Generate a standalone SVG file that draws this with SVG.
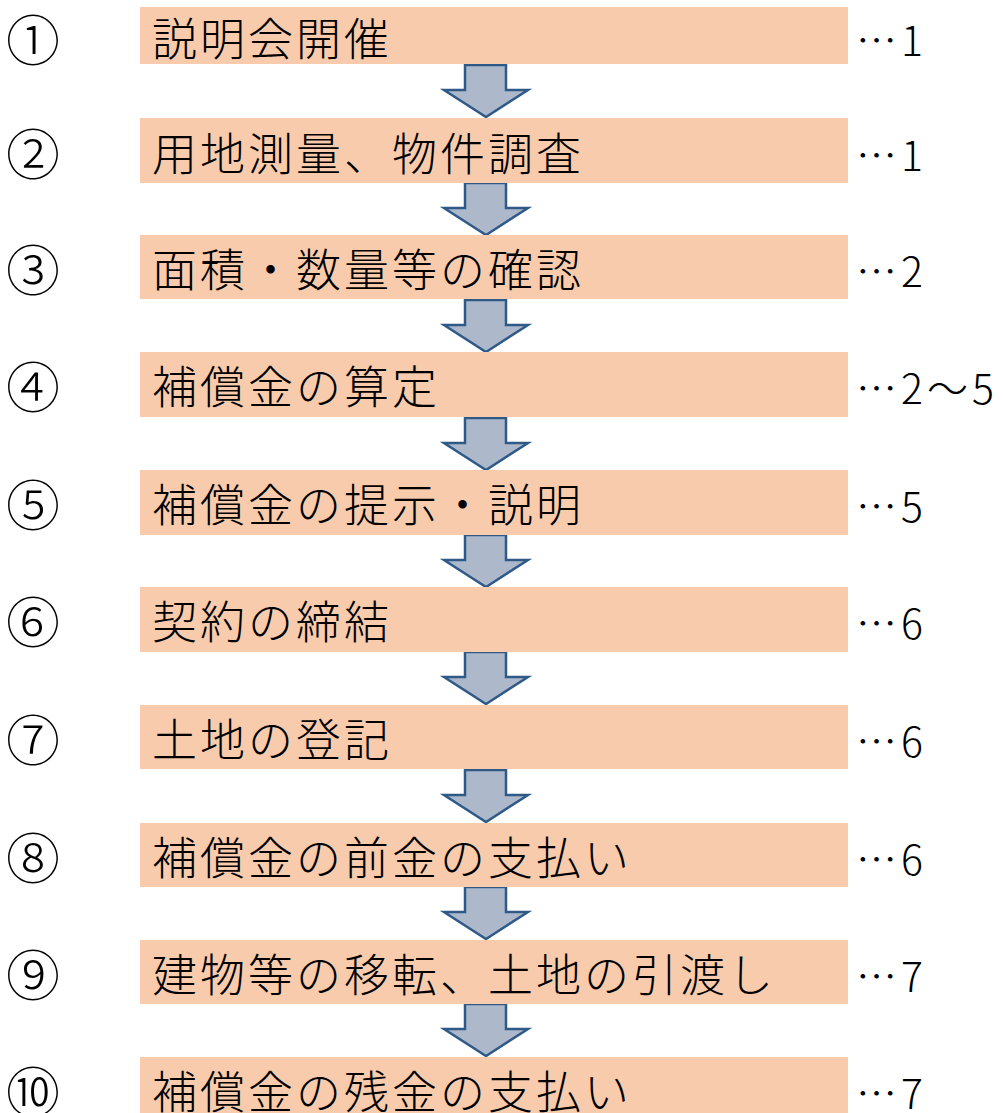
<svg xmlns="http://www.w3.org/2000/svg" width="1003" height="1113" viewBox="0 0 1003 1113">
<defs>
<style>
.box{fill:#F8CBAD;}
.arr{fill:#ADB9CA;stroke:#2F5A88;stroke-width:2.5;stroke-linejoin:miter;}
.t{font-family:"Noto Sans CJK JP","Noto Sans",sans-serif;font-size:45px;font-weight:300;letter-spacing:3px;fill:#000;dominant-baseline:central;}
.n{font-family:"Noto Sans CJK JP","Noto Sans",sans-serif;font-size:54px;font-weight:300;fill:#000;text-anchor:middle;dominant-baseline:central;}
.r{font-family:"Noto Sans CJK JP","Noto Sans",sans-serif;font-size:41px;font-weight:300;letter-spacing:4px;fill:#000;dominant-baseline:central;}
</style>
<path id="a" d="M465,0 H506 V25 H528 L486,52 L444,25 H465 Z"/>
</defs>
<g id="connectors">
<use href="#a" class="arr" y="65"/>
<use href="#a" class="arr" y="183"/>
<use href="#a" class="arr" y="300"/>
<use href="#a" class="arr" y="418"/>
<use href="#a" class="arr" y="535"/>
<use href="#a" class="arr" y="652"/>
<use href="#a" class="arr" y="770"/>
<use href="#a" class="arr" y="887"/>
<use href="#a" class="arr" y="1004"/>
</g>
<g id="node1"><rect class="box" x="140" y="7" width="708" height="57"/><text class="n" x="33" y="37">①</text><text class="t" x="152" y="36">説明会開催</text><text class="r" x="856" y="38">…1</text></g>
<g id="node2"><rect class="box" x="140" y="118" width="708" height="65"/><text class="n" x="33" y="151">②</text><text class="t" x="152" y="151">用地測量、物件調査</text><text class="r" x="856" y="153">…1</text></g>
<g id="node3"><rect class="box" x="140" y="235" width="708" height="64"/><text class="n" x="33" y="267">③</text><text class="t" x="152" y="267">面積・数量等の確認</text><text class="r" x="856" y="269">…2</text></g>
<g id="node4"><rect class="box" x="140" y="352" width="708" height="65"/><text class="n" x="33" y="384">④</text><text class="t" x="152" y="384">補償金の算定</text><text class="r" x="856" y="386">…2～5</text></g>
<g id="node5"><rect class="box" x="140" y="470" width="708" height="65"/><text class="n" x="33" y="502">⑤</text><text class="t" x="152" y="502">補償金の提示・説明</text><text class="r" x="856" y="504">…5</text></g>
<g id="node6"><rect class="box" x="140" y="587" width="708" height="65"/><text class="n" x="33" y="619">⑥</text><text class="t" x="152" y="619">契約の締結</text><text class="r" x="856" y="621">…6</text></g>
<g id="node7"><rect class="box" x="140" y="705" width="708" height="64"/><text class="n" x="33" y="737">⑦</text><text class="t" x="152" y="737">土地の登記</text><text class="r" x="856" y="739">…6</text></g>
<g id="node8"><rect class="box" x="140" y="823" width="708" height="64"/><text class="n" x="33" y="855">⑧</text><text class="t" x="152" y="855">補償金の前金の支払い</text><text class="r" x="856" y="857">…6</text></g>
<g id="node9"><rect class="box" x="140" y="940" width="708" height="64"/><text class="n" x="33" y="972">⑨</text><text class="t" x="152" y="972">建物等の移転、土地の引渡し</text><text class="r" x="856" y="974">…7</text></g>
<g id="node10"><rect class="box" x="140" y="1057" width="708" height="65"/><text class="n" x="33" y="1089">⑩</text><text class="t" x="152" y="1089">補償金の残金の支払い</text><text class="r" x="856" y="1091">…7</text></g>
</svg>
